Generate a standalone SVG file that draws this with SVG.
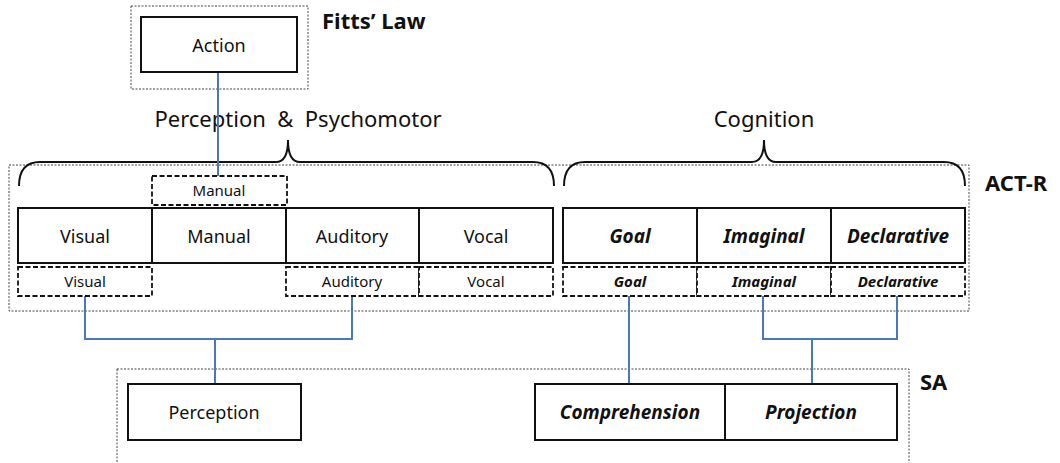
<svg xmlns="http://www.w3.org/2000/svg" width="1060" height="463" viewBox="0 0 1060 463">
<style>
text{font-family:"Noto Sans","Noto Sans CJK KR",sans-serif;fill:#111;text-anchor:middle;dominant-baseline:central}
.box{fill:#fff;stroke:#111;stroke-width:2}
.dash{fill:#fff;stroke:#111;stroke-width:1.8;stroke-dasharray:5,2.5}
.dot{fill:none;stroke:#444;stroke-width:1;stroke-dasharray:2,1.5}
.brace{fill:none;stroke:#111;stroke-width:2}
.conn{fill:none;stroke:#4a78c0;stroke-width:2}
.big{font-size:18px}
.bigi{font-size:19px;font-style:italic;font-weight:bold}
.sm{font-size:15px}
.smi{font-size:15px;font-style:italic;font-weight:bold}
.title{font-weight:bold;font-size:22px;text-anchor:start}
.grp{font-size:22px}
</style>
<rect width="1060" height="463" fill="#fff"/>
<g id="containers">
<rect class="dot" x="131" y="6" width="177" height="83"/>
<rect class="dot" x="9" y="165" width="960" height="146"/>
<rect class="dot" x="117" y="369" width="792" height="98"/>
<text class="title" x="322" y="20">Fitts’ Law</text>
<text class="title" x="985" y="182">ACT-R</text>
<text class="title" x="920" y="381">SA</text>
</g>
<g id="braces">
<path class="brace" d="M19,186 Q19,162 40,162 L276,162 Q288,162 288,140 Q288,162 300,162 L533,162 Q554,162 554,186"/>
<text class="grp" x="298" y="118">Perception &#160;&amp;&#160; Psychomotor</text>
<path class="brace" d="M564,186 Q564,162 585,162 L752,162 Q764,162 764,140 Q764,162 776,162 L944,162 Q965,162 965,186"/>
<text class="grp" x="764" y="118">Cognition</text>
</g>
<g id="connectors">
<line class="conn" x1="218" y1="72" x2="218" y2="176"/>
<polyline class="conn" points="85,296 85,339 352,339 352,296"/>
<line class="conn" x1="215" y1="339" x2="215" y2="384"/>
<line class="conn" x1="629" y1="296" x2="629" y2="384"/>
<polyline class="conn" points="763,296 763,339 897,339 897,296"/>
<line class="conn" x1="812" y1="339" x2="812" y2="384"/>
</g>
<g id="action"><rect class="box" x="141" y="17" width="156" height="55"/><text class="big" x="219" y="45">Action</text></g>
<g id="manual-buf"><rect class="dash" x="152" y="176" width="135" height="29"/><text class="sm" x="219" y="190">Manual</text></g>
<g id="visual"><rect class="box" x="18" y="208" width="134" height="55"/><text class="big" x="85" y="236">Visual</text></g>
<g id="manual"><rect class="box" x="152" y="208" width="134" height="55"/><text class="big" x="219" y="236">Manual</text></g>
<g id="auditory"><rect class="box" x="286" y="208" width="133" height="55"/><text class="big" x="352" y="236">Auditory</text></g>
<g id="vocal"><rect class="box" x="419" y="208" width="134" height="55"/><text class="big" x="486" y="236">Vocal</text></g>
<g id="goal"><rect class="box" x="563" y="208" width="134" height="55"/><text class="bigi" x="630" y="236">Goal</text></g>
<g id="imaginal"><rect class="box" x="697" y="208" width="134" height="55"/><text class="bigi" x="764" y="236">Imaginal</text></g>
<g id="declarative"><rect class="box" x="831" y="208" width="134" height="55"/><text class="bigi" x="898" y="236">Declarative</text></g>
<g id="visual-buf"><rect class="dash" x="18" y="267" width="134" height="29"/><text class="sm" x="85" y="281">Visual</text></g>
<g id="auditory-buf"><rect class="dash" x="286" y="267" width="133" height="29"/><text class="sm" x="352" y="281">Auditory</text></g>
<g id="vocal-buf"><rect class="dash" x="419" y="267" width="134" height="29"/><text class="sm" x="486" y="281">Vocal</text></g>
<g id="goal-buf"><rect class="dash" x="563" y="267" width="134" height="29"/><text class="smi" x="630" y="281">Goal</text></g>
<g id="imaginal-buf"><rect class="dash" x="697" y="267" width="134" height="29"/><text class="smi" x="764" y="281">Imaginal</text></g>
<g id="declarative-buf"><rect class="dash" x="831" y="267" width="134" height="29"/><text class="smi" x="898" y="281">Declarative</text></g>
<g id="perception"><rect class="box" x="128" y="384" width="173" height="56"/><text class="big" x="214" y="412">Perception</text></g>
<g id="comprehension"><rect class="box" x="535" y="384" width="190" height="56"/><text class="bigi" x="630" y="412">Comprehension</text></g>
<g id="projection"><rect class="box" x="725" y="384" width="172" height="56"/><text class="bigi" x="811" y="412">Projection</text></g>
</svg>
